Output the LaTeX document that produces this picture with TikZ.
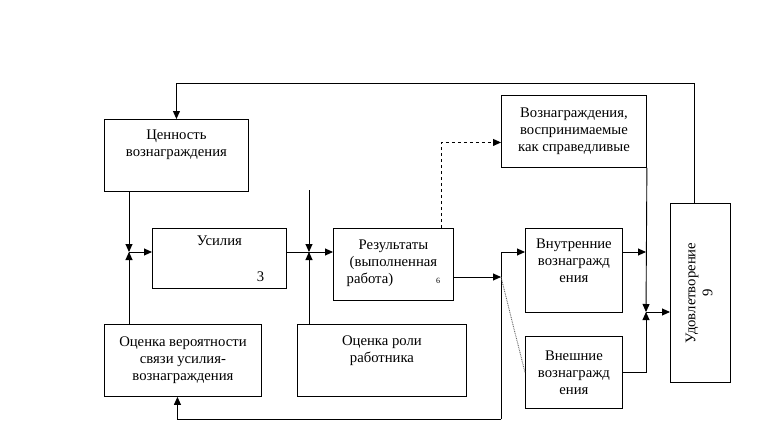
\documentclass[tikz,border=0pt]{standalone}
\usepackage{fontspec}
\setmainfont{Liberation Serif}
\usepackage{graphicx}
\usetikzlibrary{arrows.meta}
\tikzset{
  mBox/.style = {draw=black, line width=0.9pt, align=center, inner sep=2pt,
    font=\fontsize{14.7}{17}\selectfont, anchor=north west},
  mLine/.style = {line width=0.9pt}
    % blocks and connecting lines of the scheme
}

\begin{document}
\begin{tikzpicture}[x=1pt,y=-1pt,>={Triangle[length=8pt,width=7pt]}]
\useasboundingbox (0,0) rectangle (765,439);
\node[mBox, minimum width=144, minimum height=72] (value) at (104,119)
  {Ценность\\вознаграждения\\[7pt]\mbox{}};
\node[mBox, minimum width=134, minimum height=60] (effort) at (152,228)
  {Усилия\\[19pt]\hspace*{82pt}3};
\node[mBox, minimum width=120, minimum height=72] (result) at (333,228)
  {Результаты\\(выполненная\\работа)\hspace{43pt}{\fontsize{8}{9}\selectfont 6}\\[-11pt]\mbox{}};
\node[mBox, minimum width=157, minimum height=72] (prob) at (104,324)
  {Оценка вероятности\\связи усилия-\\вознаграждения};
\node[mBox, minimum width=169, minimum height=72] (role) at (297,324)
  {Оценка роли\\работника\\[6pt]\mbox{}};
\node[mBox, minimum width=145, minimum height=72] (fair) at (501,95)
  {Вознаграждения,\\воспринимаемые\\как справедливые};
\node[mBox, minimum width=97, minimum height=84] (inner) at (525,228)
  {Внутренние\\вознагражд\\ения\\[3pt]\mbox{}};
\node[mBox, minimum width=97, minimum height=72] (outer) at (525,336)
  {Внешние\\вознагражд\\ения};
\node[mBox, minimum width=60, minimum height=179] (udov) at (670,203)
  {\rotatebox{90}{\begin{tabular}{@{}c@{}}Удовлетворение\\9\end{tabular}}};

\coordinate (J1) at (129,252);
\coordinate (J2) at (309,252);
\coordinate (J2top) at (309,190);
\coordinate (J3) at (501,277);
\coordinate (J4) at (501,419);
\coordinate (J5) at (646,312);

% left part
\draw[mLine,->] (J1 |- value.south) -- (J1);
\draw[mLine,->] (J1 |- prob.north) -- (J1);
\draw[mLine,->] (J1) -- (effort.west |- J1);
\draw[mLine,->] (J2top) -- (J2);
\draw[mLine,->] (J2 |- role.north) -- (J2);
\draw[mLine] (effort.east |- J2) -- (J2);
\draw[mLine,->] (J2) -- (result.west |- J2);

% rewards
\draw[mLine,->] (result.east |- J3) -- (J3);
\draw[mLine,->] (J4) |- (inner.west |- J2);
\draw[mLine,->] (J4) -| ([xshift=-5.5pt]prob.south);
\draw[black!60, line width=0.9pt, dash pattern=on 0.9pt off 0.9pt] (J3) -- (outer.west);
\draw[mLine, dashed, ->] ([xshift=48pt]result.north) |- ([yshift=-11pt]fair.west);

% satisfaction
\draw[mLine,->] (fair.south east) -- (J5);
\draw[mLine,->] (inner.east |- J2) -- (J5 |- J2);
\draw[mLine,->] (outer.east) -| (J5);
\draw[mLine,->] (J5) -- (udov.west |- J5);
\draw[mLine,->] ([xshift=-6pt]udov.north) -- ++(0,-120) -| (value.north);
\end{tikzpicture}
\end{document}
